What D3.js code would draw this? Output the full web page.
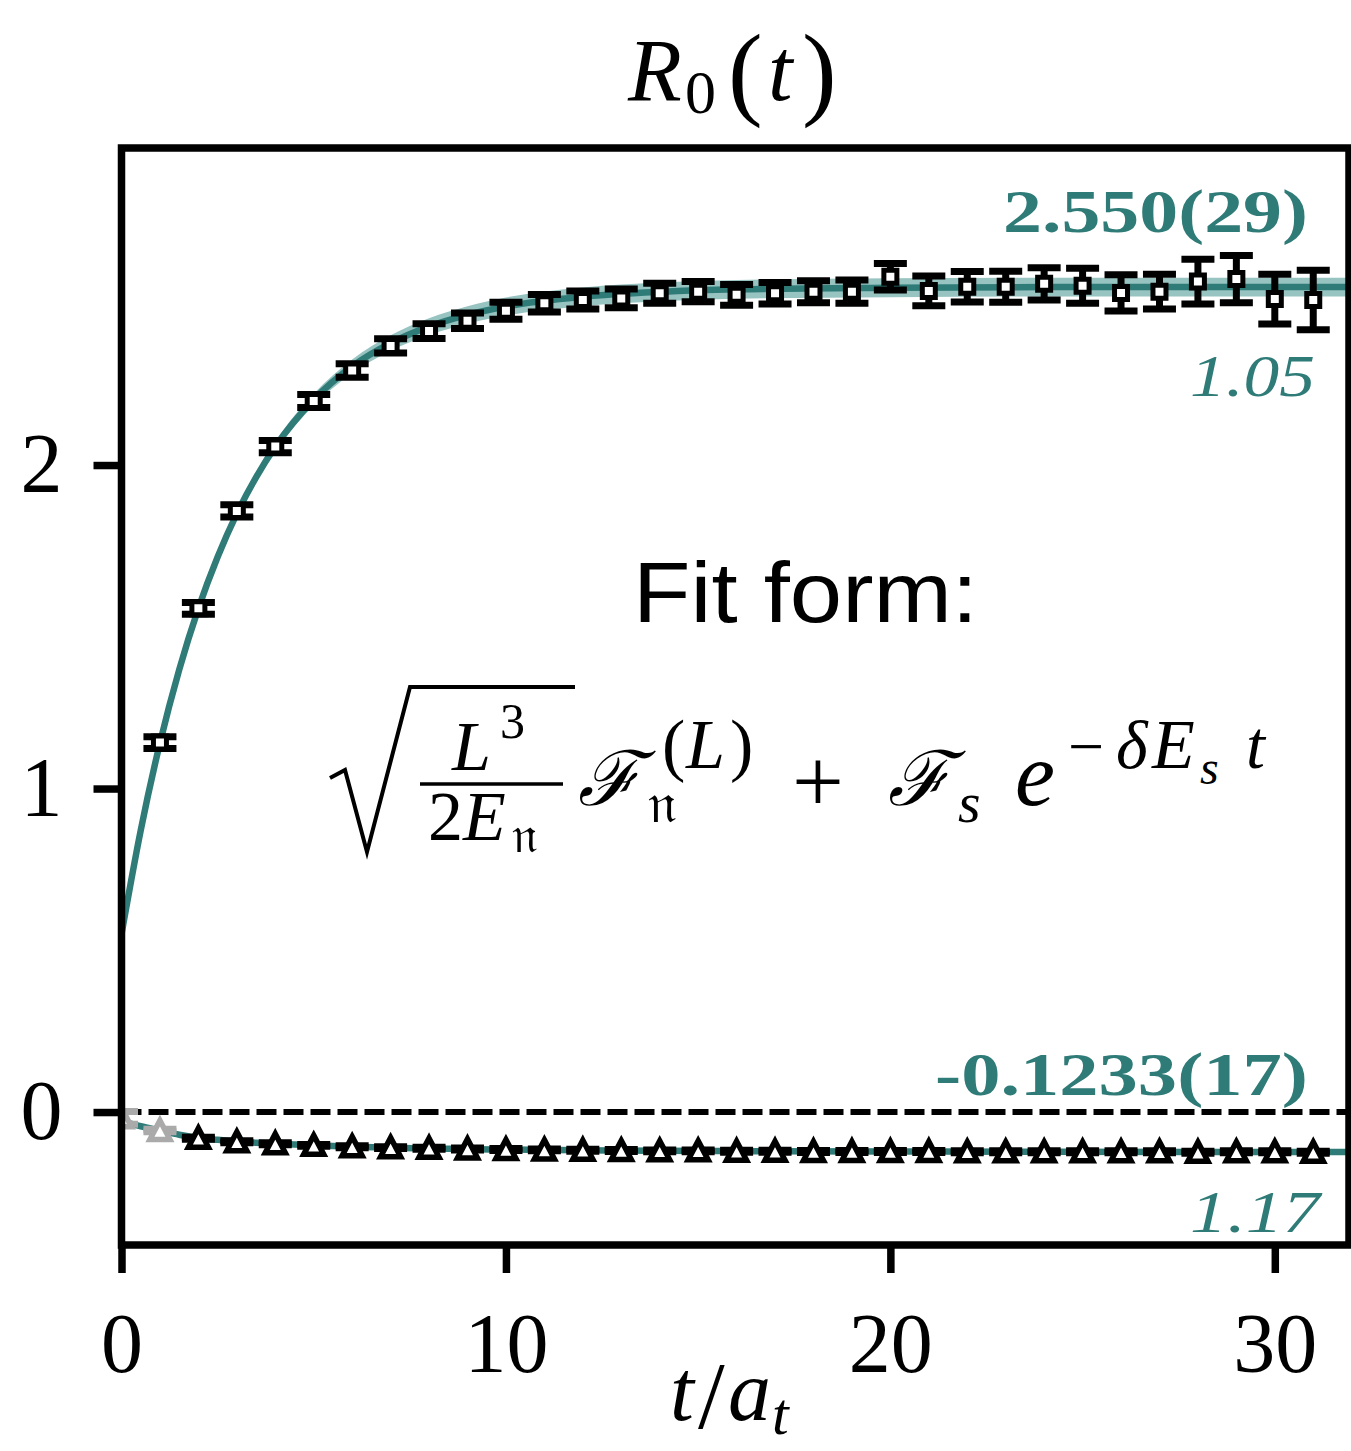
<!DOCTYPE html>
<html>
<head>
<meta charset="utf-8">
<script src="https://cdn.jsdelivr.net/npm/d3@7"></script>
<style>
body { margin: 0; background: #fff; }
</style>
</head>
<body>
<svg id="chart" width="1351" height="1451"></svg>
<script>
// data
var tUpper = d3.range(1, 32);
var upperVals = [1.142, 1.557, 1.858, 2.057, 2.198, 2.292, 2.368, 2.414, 2.446, 2.477,
                 2.500, 2.510, 2.515, 2.531, 2.536, 2.526, 2.531, 2.536, 2.536, 2.582,
                 2.538, 2.551, 2.551, 2.560, 2.554, 2.532, 2.536, 2.567, 2.575, 2.513, 2.510];
var upperErrs = [0.018, 0.018, 0.019, 0.019, 0.020, 0.021, 0.022, 0.023, 0.024, 0.026,
                 0.027, 0.028, 0.029, 0.031, 0.031, 0.032, 0.033, 0.034, 0.036, 0.041,
                 0.046, 0.047, 0.048, 0.050, 0.054, 0.056, 0.054, 0.069, 0.073, 0.077, 0.092];

var tLower = d3.range(0, 32);
var lowerVals = [-0.018, -0.057, -0.081, -0.092, -0.098, -0.103, -0.107, -0.110, -0.112, -0.114,
                 -0.116, -0.117, -0.118, -0.119, -0.120, -0.120, -0.121, -0.121, -0.122, -0.122,
                 -0.122, -0.122, -0.123, -0.123, -0.123, -0.123, -0.123, -0.123, -0.124, -0.123,
                 -0.123, -0.124];
var lowerErrs = [0.020, 0.004, 0.003, 0.003, 0.003, 0.003, 0.003, 0.003, 0.003, 0.003,
                 0.003, 0.003, 0.003, 0.003, 0.003, 0.003, 0.003, 0.003, 0.003, 0.003,
                 0.003, 0.003, 0.003, 0.003, 0.003, 0.003, 0.003, 0.003, 0.003, 0.003,
                 0.003, 0.003];
var lowerExcluded = [0, 1];   // grey points, not in the fit

// fit curves
var fitT = [0, 0.5, 1, 1.5, 2, 2.5, 3, 3.5, 4, 5, 6, 7, 8, 9, 10, 12, 14, 16, 20, 24, 28, 32];
var fitUpper = [0.550, 0.871, 1.141, 1.367, 1.557, 1.716, 1.850, 1.962, 2.057, 2.202, 2.305,
                2.377, 2.428, 2.464, 2.490, 2.520, 2.535, 2.543, 2.548, 2.550, 2.550, 2.550];
var fitUpperBand = [0.006, 0.006, 0.007, 0.008, 0.009, 0.010, 0.011, 0.013, 0.015, 0.018, 0.021,
                    0.024, 0.026, 0.027, 0.028, 0.029, 0.029, 0.029, 0.029, 0.029, 0.029, 0.029];
var fitLower = [-0.028, -0.044, -0.057, -0.070, -0.080, -0.086, -0.091, -0.095, -0.098, -0.103, -0.107,
                -0.110, -0.113, -0.1145, -0.116, -0.118, -0.120, -0.121, -0.122, -0.123, -0.1233, -0.1233];

var xTicks = [0, 10, 20, 30];
var yTicks = [0, 1, 2];

var teal = "#2f7b78";
var tealLight = "#97c3c1";
var grey = "#aaaaaa";

var svg = d3.select("#chart");

var x = d3.scaleLinear().domain([0, 31.93]).range([121.5, 1349]);
var y = d3.scaleLinear().domain([-0.411, 2.98]).range([1245, 148]);

svg.append("defs").append("clipPath").attr("id", "plotClip")
    .append("rect")
    .attr("x", x(0)).attr("y", y(2.98))
    .attr("width", x(31.93) - x(0)).attr("height", y(-0.411) - y(2.98));

var plot = svg.append("g").attr("clip-path", "url(#plotClip)");

// fit band + lines
var fitRows = fitT.map(function(t, i){
    return {t: t, up: fitUpper[i], band: fitUpperBand[i], low: fitLower[i]};
});

plot.append("path")
    .datum(fitRows)
    .attr("d", d3.area()
        .x(function(d){ return x(d.t); })
        .y0(function(d){ return y(d.up - d.band); })
        .y1(function(d){ return y(d.up + d.band); })
        .curve(d3.curveMonotoneX))
    .attr("fill", tealLight);

plot.append("path")
    .datum(fitRows)
    .attr("d", d3.line()
        .x(function(d){ return x(d.t); })
        .y(function(d){ return y(d.up); })
        .curve(d3.curveMonotoneX))
    .attr("fill", "none").attr("stroke", teal).attr("stroke-width", 6.5);

plot.append("path")
    .datum(fitRows)
    .attr("d", d3.line()
        .x(function(d){ return x(d.t); })
        .y(function(d){ return y(d.low); })
        .curve(d3.curveMonotoneX))
    .attr("fill", "none").attr("stroke", teal).attr("stroke-width", 6.5);

// zero line
plot.append("line")
    .attr("x1", x(0)).attr("x2", x(31.93))
    .attr("y1", y(0)).attr("y2", y(0))
    .attr("stroke", "black").attr("stroke-width", 6)
    .attr("stroke-dasharray", "20,7");

/*
draws error bars with caps and a marker for every point

rows: [{t, v, e, color}]
shape: "square" or "triangle"
*/
function drawPoints(rows, shape){
    var cap = 16.5;
    var g = plot.append("g").selectAll("g").data(rows).enter().append("g");

    g.append("line")
        .attr("x1", function(d){ return x(d.t); })
        .attr("x2", function(d){ return x(d.t); })
        .attr("y1", function(d){ return y(d.v - d.e); })
        .attr("y2", function(d){ return y(d.v + d.e); })
        .attr("stroke", function(d){ return d.color; })
        .attr("stroke-width", 7);

    [-1, 1].forEach(function(s){
        g.append("line")
            .attr("x1", function(d){ return x(d.t) - cap; })
            .attr("x2", function(d){ return x(d.t) + cap; })
            .attr("y1", function(d){ return y(d.v + s*d.e); })
            .attr("y2", function(d){ return y(d.v + s*d.e); })
            .attr("stroke", function(d){ return d.color; })
            .attr("stroke-width", 7);
    });

    var path = shape == "square"
        ? "M-6.5,-6.5L6.5,-6.5L6.5,6.5L-6.5,6.5Z"
        : "M0,-10L10,9L-10,9Z";

    g.append("path")
        .attr("transform", function(d){ return "translate(" + x(d.t) + "," + y(d.v) + ")"; })
        .attr("d", path)
        .attr("fill", "white")
        .attr("stroke", function(d){ return d.color; })
        .attr("stroke-width", shape == "square" ? 5 : 5.5)
        .attr("stroke-linejoin", "miter");
}

drawPoints(tLower.map(function(t, i){
    return {t: t, v: lowerVals[i], e: lowerErrs[i],
            color: lowerExcluded.indexOf(t) >= 0 ? grey : "black"};
}), "triangle");

drawPoints(tUpper.map(function(t, i){
    return {t: t, v: upperVals[i], e: upperErrs[i], color: "black"};
}), "square");

// frame
svg.append("rect")
    .attr("x", x(0)).attr("y", y(2.98))
    .attr("width", x(31.93) - x(0)).attr("height", y(-0.411) - y(2.98))
    .attr("fill", "none").attr("stroke", "black").attr("stroke-width", 7.5);

// axes
var serif = "'Liberation Serif', 'DejaVu Serif', serif";

var xAxis = svg.append("g")
    .attr("transform", "translate(0," + y(-0.411) + ")")
    .call(d3.axisBottom(x).tickValues(xTicks).tickSize(28).tickSizeOuter(0).tickPadding(39)
        .tickFormat(d3.format("d")));
var yAxis = svg.append("g")
    .attr("transform", "translate(" + x(0) + ",0)")
    .call(d3.axisLeft(y).tickValues(yTicks).tickSize(28).tickSizeOuter(0).tickPadding(31)
        .tickFormat(d3.format("d")));

[xAxis, yAxis].forEach(function(a){
    a.select(".domain").remove();
    a.selectAll(".tick line").attr("stroke", "black").attr("stroke-width", 7.5);
    a.selectAll(".tick text").attr("font-family", serif).attr("font-size", 84).attr("fill", "black");
});

/*
puts one piece of math text at a fixed spot

g: container
txt: text
x0, base: left edge and baseline
size: font size in px
italic: true for math italic
*/
function mtext(g, txt, x0, base, size, italic){
    return g.append("text")
        .attr("x", x0).attr("y", base)
        .attr("font-size", size)
        .attr("font-style", italic ? "italic" : "normal")
        .text(txt);
}

// title and axis label
var titleG = svg.append("g").attr("font-family", serif);
mtext(titleG, "R", 628, 100, 88, true);
mtext(titleG, "0", 685, 113, 62, false);
mtext(titleG, "(", 728, 106, 104, false);
mtext(titleG, "t", 768, 100, 88, true);
mtext(titleG, ")", 802, 106, 104, false);

var xlabG = svg.append("g").attr("font-family", serif);
mtext(xlabG, "t", 670, 1420, 86, true);
mtext(xlabG, "/", 698, 1428, 96, false);
mtext(xlabG, "a", 728, 1420, 86, true);
mtext(xlabG, "t", 772, 1434, 60, true);

// fit results
function note(txt, x0, width, base, bold){
    svg.append("text")
        .attr("x", x0).attr("y", base)
        .attr("textLength", width).attr("lengthAdjust", "spacingAndGlyphs")
        .attr("font-family", serif)
        .attr("font-size", bold ? 62 : 60)
        .attr("font-weight", bold ? "bold" : "normal")
        .attr("font-style", bold ? "normal" : "italic")
        .attr("fill", teal)
        .text(txt);
}
note("2.550(29)", 1003, 305, 232, true);
note("1.05", 1190, 125, 396, false);
note("-0.1233(17)", 935, 373, 1095, true);
note("1.17", 1190, 130, 1232, false);

// fit form
svg.append("text")
    .attr("x", 633).attr("y", 622)
    .attr("textLength", 345).attr("lengthAdjust", "spacingAndGlyphs")
    .attr("font-family", "'Liberation Sans', sans-serif").attr("font-size", 86)
    .text("Fit form:");

var mathG = svg.append("g").attr("font-family", serif);

mathG.append("path")
    .attr("d", "M330,778 L345,770 L367,852 L410,687 L575,687")
    .attr("fill", "none").attr("stroke", "black").attr("stroke-width", 4)
    .attr("stroke-linejoin", "miter");

mtext(mathG, "L", 452, 770, 70, true);
mtext(mathG, "3", 500, 738, 50, false);
mathG.append("line").attr("x1", 420).attr("x2", 563).attr("y1", 784).attr("y2", 784)
    .attr("stroke", "black").attr("stroke-width", 3.5);
mtext(mathG, "2", 428, 840, 70, false);
mtext(mathG, "E", 463, 840, 70, true);
mtext(mathG, "\u{1D52B}", 512, 852, 50, false);

mtext(mathG, "\u2131", 578, 805, 76, true);
mtext(mathG, "(", 662, 768, 70, false);
mtext(mathG, "L", 686, 768, 70, true);
mtext(mathG, ")", 730, 768, 70, false);
mtext(mathG, "\u{1D52B}", 648, 822, 56, false);

mtext(mathG, "+", 792, 812, 92, false);

mtext(mathG, "\u2131", 888, 805, 76, true);
mtext(mathG, "s", 958, 822, 58, true);
mtext(mathG, "e", 1015, 805, 90, true);
mtext(mathG, "\u2212", 1068, 768, 64, false);
mtext(mathG, "\u03B4", 1116, 768, 68, true);
mtext(mathG, "E", 1152, 768, 70, true);
mtext(mathG, "s", 1200, 784, 48, true);
mtext(mathG, "t", 1246, 768, 68, true);
</script>
</body>
</html>
